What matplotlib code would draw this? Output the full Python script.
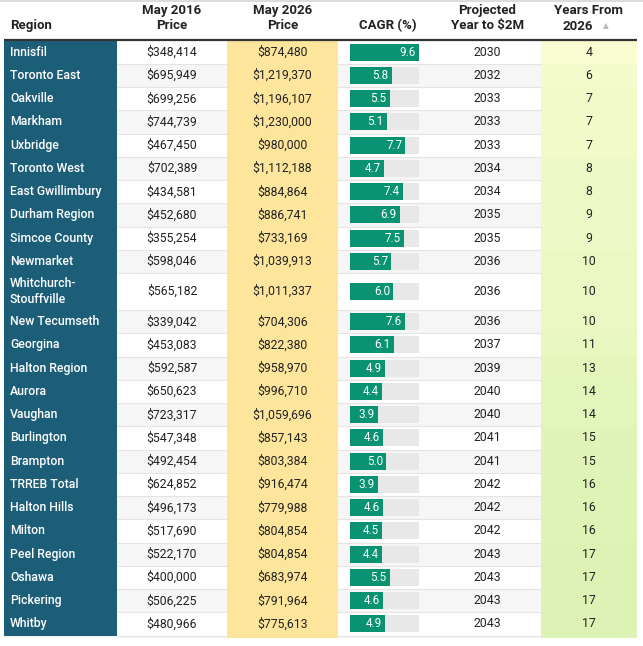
import numpy as np
import matplotlib.pyplot as plt
from matplotlib.patches import Rectangle
from matplotlib.colors import LinearSegmentedColormap, Normalize

plt.rcParams['font.family'] = ['Roboto', 'DejaVu Sans']

# table data
regions = ['Innisfil', 'Toronto East', 'Oakville', 'Markham', 'Uxbridge', 'Toronto West',
           'East Gwillimbury', 'Durham Region', 'Simcoe County', 'Newmarket',
           'Whitchurch-\nStouffville', 'New Tecumseth', 'Georgina', 'Halton Region', 'Aurora',
           'Vaughan', 'Burlington', 'Brampton', 'TRREB Total', 'Halton Hills', 'Milton',
           'Peel Region', 'Oshawa', 'Pickering', 'Whitby']
price_2016 = [348414, 695949, 699256, 744739, 467450, 702389, 434581, 452680, 355254, 598046,
              565182, 339042, 453083, 592587, 650623, 723317, 547348, 492454, 624852, 496173,
              517690, 522170, 400000, 506225, 480966]
price_2026 = [874480, 1219370, 1196107, 1230000, 980000, 1112188, 884864, 886741, 733169, 1039913,
              1011337, 704306, 822380, 958970, 996710, 1059696, 857143, 803384, 916474, 779988,
              804854, 804854, 683974, 791964, 775613]
cagr = [9.6, 5.8, 5.5, 5.1, 7.7, 4.7, 7.4, 6.9, 7.5, 5.7,
        6.0, 7.6, 6.1, 4.9, 4.4, 3.9, 4.6, 5.0, 3.9, 4.6,
        4.5, 4.4, 5.5, 4.6, 4.9]
year_2m = [2030, 2032, 2033, 2033, 2033, 2034, 2034, 2035, 2035, 2036,
           2036, 2036, 2037, 2039, 2040, 2040, 2041, 2041, 2042, 2042,
           2042, 2043, 2043, 2043, 2043]
years_from = [4, 6, 7, 7, 7, 8, 8, 9, 9, 10,
              10, 10, 11, 13, 14, 14, 15, 15, 16, 16,
              16, 17, 17, 17, 17]

W, H = 643, 646
fig = plt.figure(figsize=(W / 100, H / 100), dpi=100)
ax = fig.add_axes([0, 0, 1, 1])
ax.set_xlim(0, W)
ax.set_ylim(H, 0)
ax.axis('off')

# column edges (pixels)
x0, x_reg, x_p16, x_p26, x_cagr, x_proj, x_end = 4, 117, 227, 338, 434, 541, 637
top = 40.6
row_h = 23.25
dbl_h = 37.0

dark = '#1c5e78'
yellow = '#fde59c'
bar_col = '#0a9373'
track = '#e8e8e8'
stripe = '#f6f6f6'
line_col = '#e4e4e4'
txt = '#222222'
years_cmap = LinearSegmentedColormap.from_list('yrs', ['#f8fcd0', '#dcf3b5'])
norm = Normalize(min(years_from), max(years_from))

heights = [dbl_h if '\n' in r else row_h for r in regions]
ys = np.concatenate([[top], top + np.cumsum(heights)])
bottom = ys[-1]

# faint top border
ax.add_patch(Rectangle((0, 0), W, 2, color='#dcdcdc', lw=0))

# header
hfs = 9.5
ax.text(10, 26, 'Region', ha='left', va='center', fontsize=hfs, fontweight='bold', color=txt)
ax.text((x_reg + x_p16) / 2, 18, 'May 2016\nPrice', ha='center', va='center', fontsize=hfs,
        fontweight='bold', color=txt, linespacing=1.25)
ax.text((x_p16 + x_p26) / 2, 18, 'May 2026\nPrice', ha='center', va='center', fontsize=hfs,
        fontweight='bold', color=txt, linespacing=1.25)
ax.text((x_p26 + x_cagr) / 2 + 2, 26, 'CAGR (%)', ha='center', va='center', fontsize=hfs,
        fontweight='bold', color=txt)
ax.text((x_cagr + x_proj) / 2, 18, 'Projected\nYear to $2M', ha='center', va='center', fontsize=hfs,
        fontweight='bold', color=txt, linespacing=1.25)
ax.text((x_proj + x_end) / 2, 10, 'Years From', ha='center', va='center', fontsize=hfs,
        fontweight='bold', color=txt)
ax.text(578, 26, '2026', ha='center', va='center', fontsize=hfs,
        fontweight='bold', color=txt)
ax.text(606, 26, '▲', ha='center', va='center', fontsize=5.5,
        color='#bbbbbb')

# rows
bfs = 8.8
bar_x0, bar_w, bar_h = 350, 69, 17
cmax = max(cagr)
for i, reg in enumerate(regions):
    y1, y2 = ys[i], ys[i + 1]
    yc = (y1 + y2) / 2
    h = y2 - y1
    bg = 'white' if i % 2 == 0 else stripe
    ax.add_patch(Rectangle((x0, y1), x_end - x0, h, color=bg, lw=0))
    ax.add_patch(Rectangle((x0, y1), x_reg - x0, h, color=dark, lw=0))
    ax.add_patch(Rectangle((x_p16, y1), x_p26 - x_p16, h, color=yellow, lw=0))
    ax.add_patch(Rectangle((x_proj, y1), x_end - x_proj, h, color=years_cmap(norm(years_from[i])), lw=0))
    ax.plot([x_reg, x_p16], [y2, y2], color=line_col, lw=0.8)
    ax.plot([x_p26, x_proj], [y2, y2], color=line_col, lw=0.8)

    ax.text(10, yc, reg, ha='left', va='center', fontsize=bfs, color='white',
            fontweight='medium', linespacing=1.3)
    ax.text((x_reg + x_p16) / 2, yc, f'${price_2016[i]:,}', ha='center', va='center',
            fontsize=bfs, color=txt)
    ax.text((x_p16 + x_p26) / 2, yc, f'${price_2026[i]:,}', ha='center', va='center',
            fontsize=bfs, color=txt)

    bw = bar_w * cagr[i] / cmax
    ax.add_patch(Rectangle((bar_x0, yc - bar_h / 2), bar_w, bar_h, color=track, lw=0))
    ax.add_patch(Rectangle((bar_x0, yc - bar_h / 2), bw, bar_h, color=bar_col, lw=0))
    ax.text(bar_x0 + bw - 3, yc, f'{cagr[i]:.1f}', ha='right', va='center',
            fontsize=bfs - 0.4, color='white')

    ax.text((x_cagr + x_proj) / 2, yc, str(year_2m[i]), ha='center', va='center',
            fontsize=bfs, color=txt)
    ax.text((x_proj + x_end) / 2, yc, str(years_from[i]), ha='center', va='center',
            fontsize=bfs, color=txt)

# cut-off next row below the table
ax.add_patch(Rectangle((x0, bottom), x_end - x0, 2.5, color=stripe, lw=0))
ax.add_patch(Rectangle((x_p16, bottom), x_p26 - x_p16, 2.5, color=yellow, lw=0))
ax.add_patch(Rectangle((x_proj, bottom), x_end - x_proj, 2.5, color=years_cmap(1.0), lw=0))

# header rule
ax.plot([x0, x_end], [top - 0.5, top - 0.5], color='#333333', lw=1.6, solid_capstyle='butt')

fig.savefig('out.png', dpi=100)
